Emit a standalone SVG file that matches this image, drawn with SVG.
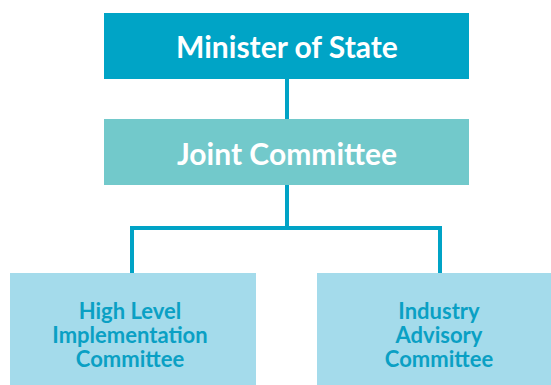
<svg xmlns="http://www.w3.org/2000/svg" width="551" height="385" viewBox="0 0 551 385">
<style>
.t{font-family:Lato,"Open Sans",sans-serif;font-weight:bold;text-anchor:middle}
.big{font-size:30px;fill:#ffffff}
.small{font-size:22px;fill:#0aa0c4}
.ln{stroke:#00a3c6;stroke-width:4;fill:none}
</style>
<rect width="551" height="385" fill="#ffffff"/>
<g id="connectors">
<line class="ln" x1="287" y1="79" x2="287" y2="119"/>
<path class="ln" d="M287 185 V228 M132 273 V228 H440 V273"/>
</g>
<g id="minister">
<rect x="104" y="13" width="365" height="66" fill="#00a4c6"/>
<text class="t big" x="287" y="58">Minister of State</text>
</g>
<g id="joint">
<rect x="104" y="119" width="365" height="66" fill="#72c9cb"/>
<text class="t big" x="287" y="165">Joint Committee</text>
</g>
<g id="hlic">
<rect x="10" y="273" width="246" height="112" fill="#a4dbeb"/>
<text class="t small" x="130" y="319">High Level</text>
<text class="t small" x="130" y="343">Implementation</text>
<text class="t small" x="130" y="367">Committee</text>
</g>
<g id="iac">
<rect x="317" y="273" width="234" height="112" fill="#a4dbeb"/>
<text class="t small" x="439" y="319">Industry</text>
<text class="t small" x="439" y="343">Advisory</text>
<text class="t small" x="439" y="367">Committee</text>
</g>
</svg>
